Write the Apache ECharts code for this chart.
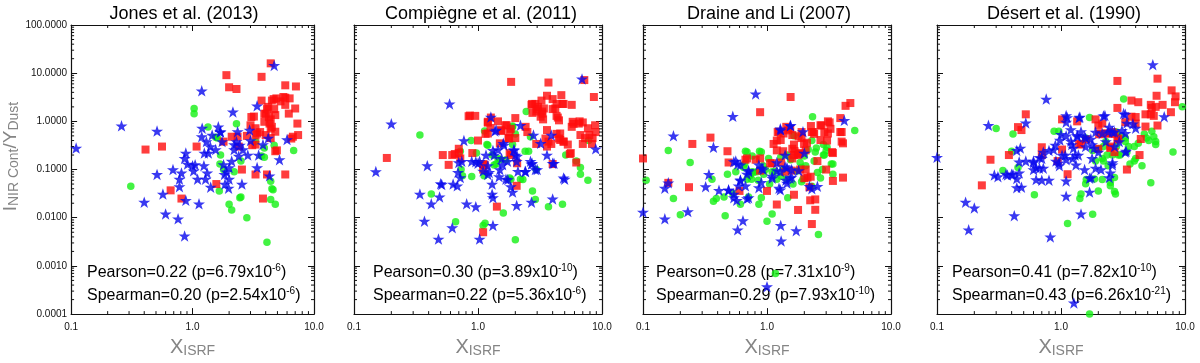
<!DOCTYPE html>
<html>
<head>
<meta charset="utf-8">
<script src="https://cdn.jsdelivr.net/npm/echarts@6/dist/echarts.min.js"></script>
<style>
html, body { margin: 0; padding: 0; background: #fff; }
#chart { width: 1200px; height: 363px; }
</style>
</head>
<body>
<div id="chart"></div>
<script>
// ---- text ----
const titles = ['Jones et al. (2013)', 'Compiègne et al. (2011)', 'Draine and Li (2007)', 'Désert et al. (1990)']
// [r, p mantissa, p exponent]
const pearson = [['0.22', '6.79', '-6'], ['0.30', '3.89', '-10'], ['0.28', '7.31', '-9'], ['0.41', '7.82', '-10']]
const spearman = [['0.20', '2.54', '-6'], ['0.22', '5.36', '-6'], ['0.29', '7.93', '-10'], ['0.43', '6.26', '-21']]

// ---- axis ticks ----
const xMajor = [0.1, 1, 10]
const yMajor = [0.0001, 0.001, 0.01, 0.1, 1, 10, 100]
const minorMantissa = [2, 3, 4, 5, 6, 7, 8, 9]

// ---- data: [X_ISRF, I_NIR/Y_Dust] ----
// Jones et al. (2013)
const jonesCircle = [[0.31,0.045],[1.03,1.86],[1.03,1.44],[1.34,0.76],[1.55,0.47],[1.6,0.45],[1.68,0.13],[1.7,0.2],[1.66,0.036],[2.0,0.019],[2.1,0.0145],[2.3,0.89],[2.45,0.026],[2.8,0.010],[4.1,0.0031],[4.4,0.024],[4.5,0.04],[4.8,0.019],[4.4,0.057],[4.7,0.32],[6.8,0.25],[3.9,0.18],[2.5,0.15],[3.3,0.38],[2.2,0.09],[1.8,0.1],[4.6,0.038],[3.9,0.28],[3.7,0.19],[2.5,0.027]]
const jonesSquare = [[0.41,0.26],[0.56,0.30],[0.66,0.037],[0.81,0.025],[1.08,0.30],[1.57,0.05],[1.9,9.1],[2.0,5.1],[2.3,4.7],[1.8,0.38],[2.1,0.48],[2.35,0.48],[2.4,0.30],[2.55,0.10],[3.0,0.83],[3.05,1.23],[3.3,0.72],[3.3,0.33],[3.3,0.079],[3.4,0.56],[3.7,8.4],[3.7,2.7],[3.9,1.44],[3.9,0.98],[4.0,0.52],[4.1,0.079],[3.8,0.025],[4.4,16],[4.5,2.7],[4.7,1.8],[4.8,1.35],[4.4,1.1],[4.5,0.77],[4.8,0.61],[4.4,0.45],[4.8,0.24],[4.9,3.0],[5.3,2.6],[5.8,5.6],[5.8,3.1],[5.8,0.079],[5.8,2.2],[6.3,3.0],[6.2,1.45],[7.1,5.3],[7.0,1.85],[7.3,0.9],[6.7,0.48],[7.4,0.52],[4.2,2.0],[4.3,0.9],[3.6,0.6],[2.8,0.5],[4.1,1.8],[4.0,1.43],[4.25,1.23],[4.4,0.71],[4.65,2.9],[5.6,3.2],[3.3,0.51],[3.1,0.32],[4.95,0.25],[3.2,1.26],[6.5,0.44]]
const jonesStar = [[0.11,0.28],[0.26,0.81],[0.51,0.63],[0.51,0.079],[0.40,0.021],[0.60,0.012],[0.57,0.031],[0.76,0.0095],[0.86,0.0042],[0.88,0.023],[1.13,0.0195],[0.69,0.10],[0.78,0.063],[0.78,0.044],[0.81,0.085],[0.86,0.17],[0.88,0.22],[0.91,0.13],[1.0,0.12],[1.02,0.094],[1.05,0.126],[1.1,0.063],[1.24,0.12],[1.28,0.063],[1.32,0.085],[1.41,0.043],[1.19,4.3],[1.2,0.72],[1.19,0.48],[1.3,0.38],[1.35,0.22],[1.4,0.30],[1.45,0.52],[1.55,0.26],[1.63,0.77],[1.69,0.61],[1.75,0.38],[1.8,0.126],[1.83,0.079],[1.85,0.05],[1.98,0.041],[2.0,0.063],[2.1,0.15],[2.15,1.57],[2.2,0.26],[2.3,0.38],[2.35,0.61],[2.4,0.19],[2.55,0.05],[2.6,0.26],[2.85,0.2],[2.95,0.66],[3.4,2.1],[3.4,0.11],[3.5,0.2],[3.8,0.33],[4.2,0.45],[4.3,0.074],[4.7,14.5],[6.0,0.42],[5.2,0.16],[1.25,0.22],[1.9,0.09],[2.0,0.11],[2.2,0.33],[1.7,0.6],[3.0,0.4],[2.45,0.32]]

// Compiègne et al. (2011)
const compCircle = [[0.34,0.52],[0.42,0.031],[0.66,0.0083],[0.73,0.10],[0.75,0.074],[0.88,0.40],[0.97,0.22],[1.1,0.0069],[1.14,0.0077],[1.12,0.074],[1.18,0.33],[1.3,0.2],[1.4,0.13],[1.45,0.17],[1.6,0.0125],[1.68,0.16],[1.84,0.063],[1.9,0.8],[1.9,0.33],[2.0,0.55],[2.0,0.0035],[2.2,0.063],[2.4,0.24],[2.45,1.6],[2.65,0.48],[2.75,0.036],[2.9,0.024],[2.95,0.10],[3.7,0.017],[4.8,0.019],[5.1,0.2],[6.2,0.15],[6.7,0.11],[6.7,0.08],[7.7,0.06],[7.8,0.4],[1.13,0.63],[1.9,0.76],[2.56,0.24],[1.2,0.32],[1.5,0.16],[1.35,0.125],[0.89,0.072],[2.3,0.062],[1.8,0.067],[0.72,0.24]]
const compSquare = [[0.184,0.174],[0.52,0.2],[0.62,0.2],[0.7,0.22],[0.7,0.27],[0.9,0.22],[0.84,1.28],[0.95,1.3],[1.0,0.4],[1.1,0.13],[1.15,0.55],[1.1,0.1],[1.2,0.56],[1.2,0.94],[1.26,0.73],[1.27,1.2],[1.42,0.017],[1.45,1.0],[1.5,0.35],[1.55,0.63],[1.7,0.83],[1.76,0.45],[1.8,0.6],[1.85,0.2],[1.85,6.6],[2.0,1.17],[2.0,0.45],[2.05,0.046],[1.1,0.005],[2.7,2.2],[2.75,1.5],[2.9,2.3],[2.95,1.6],[2.95,0.34],[3.05,2.0],[3.2,1.25],[3.25,2.7],[3.3,1.6],[3.35,1.1],[3.4,1.85],[3.6,0.66],[3.7,6.4],[3.7,0.38],[3.9,0.34],[4.0,0.13],[4.0,2.9],[4.2,1.85],[4.3,2.3],[4.4,1.2],[4.7,3.5],[4.8,2.3],[4.6,0.56],[4.6,0.41],[4.9,0.38],[5.3,0.33],[5.5,0.21],[5.7,2.2],[5.7,0.77],[5.9,0.89],[6.2,0.14],[6.5,0.9],[6.7,0.52],[7.0,0.34],[7.2,7.2],[7.3,0.45],[7.7,0.72],[7.9,0.52],[8.3,0.34],[8.6,3.2],[8.8,0.83],[8.4,0.45],[8.9,0.6],[0.86,1.32],[1.2,0.98],[1.67,0.83],[1.84,0.7],[1.53,0.66],[1.78,0.44],[2.42,0.77],[2.5,0.6],[2.73,2.3],[3.0,1.8],[3.3,1.45],[3.6,3.4],[4.0,1.8],[4.9,2.3],[4.3,1.3],[4.5,1.05],[5.8,0.98],[6.6,1.0],[7.0,0.95],[3.5,0.44],[4.3,0.55],[4.5,0.44],[4.9,0.38],[3.6,0.3],[5.6,0.22],[2.07,0.135],[0.58,0.125],[0.72,0.17],[0.65,0.21],[1.8,0.22],[1.13,0.125]]
const compStar = [[0.15,0.091],[0.20,0.89],[0.59,2.3],[0.39,0.12],[0.34,0.031],[0.42,0.0195],[0.37,0.0085],[0.49,0.027],[0.50,0.051],[0.48,0.0036],[0.63,0.05],[0.68,0.046],[0.69,0.087],[0.72,0.068],[0.74,0.148],[0.70,0.14],[0.77,0.40],[0.81,0.0195],[0.96,0.017],[0.62,0.0062],[1.03,0.0036],[1.32,0.0069],[0.89,0.148],[1.03,0.148],[1.1,0.093],[1.16,0.2],[1.2,0.12],[1.23,0.087],[1.27,1.23],[1.3,0.05],[1.3,0.031],[1.32,0.026],[1.35,0.2],[1.4,0.66],[1.45,0.26],[1.5,0.10],[1.55,0.17],[1.58,0.126],[1.6,0.35],[1.68,0.063],[1.73,0.148],[1.84,0.044],[1.9,0.034],[1.95,0.26],[2.0,0.2],[2.05,0.148],[2.1,0.092],[2.05,0.018],[2.2,0.83],[2.4,0.092],[2.65,0.148],[2.7,0.13],[2.7,0.021],[2.8,0.52],[2.9,0.10],[3.0,0.10],[3.2,0.35],[4.0,0.135],[4.0,0.0245],[3.9,0.52],[5.0,0.063],[6.9,7.6],[8.9,0.27],[1.37,0.63],[1.62,0.32],[1.32,0.25],[1.95,0.25],[2.07,0.19],[1.0,0.135],[0.96,0.146],[1.2,0.079],[1.48,0.071],[1.74,0.062],[2.42,0.091],[2.73,0.135],[3.6,0.2],[4.1,0.135],[4.9,0.067],[0.51,0.049]]

// Draine and Li (2007)
const draineCircle = [[0.106,0.06],[0.16,0.25],[0.176,0.025],[0.2,0.0115],[0.24,0.14],[0.36,0.063],[0.37,0.022],[0.39,0.025],[0.45,0.027],[0.46,0.011],[0.48,0.08],[0.53,0.032],[0.56,0.09],[0.61,0.019],[0.65,0.11],[0.67,0.24],[0.69,0.063],[0.71,0.027],[0.73,0.075],[0.75,0.063],[0.78,0.087],[0.83,0.09],[0.85,0.06],[0.87,0.24],[0.9,0.026],[0.94,0.08],[0.97,0.1],[1.0,0.0085],[1.03,0.17],[1.05,0.05],[1.1,0.012],[1.17,0.0007],[1.16,0.092],[1.2,0.063],[1.29,0.18],[1.3,0.073],[1.35,0.1],[1.45,0.063],[1.47,0.026],[1.55,0.16],[1.62,0.05],[1.75,0.093],[1.85,0.14],[1.9,0.11],[1.95,0.063],[2.0,0.19],[2.05,0.12],[2.15,0.26],[2.3,0.045],[2.33,1.25],[2.4,0.15],[2.45,0.23],[2.55,0.087],[2.6,0.0045],[2.7,0.067],[2.8,0.1],[2.85,0.2],[3.05,0.29],[3.3,0.13],[3.4,0.08],[5.1,0.65],[0.69,0.23],[0.9,0.23],[0.76,0.19],[0.66,0.13],[0.76,0.09],[0.93,0.12],[1.1,0.09],[1.65,0.5],[2.3,0.4],[2.5,0.28],[2.9,0.2],[3.0,0.25],[3.4,0.13],[2.85,0.33],[1.45,0.2],[1.9,0.056],[0.86,0.019]]
const draineSquare = [[0.1,0.17],[0.16,0.053],[0.235,0.043],[0.25,0.34],[0.35,0.46],[0.48,0.24],[0.49,0.14],[0.6,0.036],[0.67,0.16],[0.88,1.55],[0.88,0.095],[0.88,0.17],[1.0,0.036],[1.1,0.135],[1.13,0.34],[1.2,0.0188],[1.25,0.61],[1.29,0.41],[1.3,0.14],[1.35,0.24],[1.43,0.77],[1.48,0.65],[1.55,3.2],[1.58,0.095],[1.6,0.17],[1.65,0.33],[1.65,0.03],[1.67,0.24],[1.77,0.2],[1.78,0.0145],[1.84,0.22],[1.9,0.45],[1.99,0.34],[2.1,0.36],[2.12,0.068],[2.2,0.043],[2.23,0.023],[2.26,0.8],[2.3,0.6],[2.3,0.0074],[2.4,0.55],[2.45,0.024],[2.45,0.0146],[2.7,0.83],[2.9,0.6],[3.0,0.1],[3.05,0.4],[3.1,1.0],[3.25,0.7],[3.35,0.23],[3.4,0.058],[3.9,1.17],[4.0,0.6],[4.0,0.38],[4.1,0.068],[4.1,0.35],[4.3,2.1],[4.7,2.4],[2.55,0.15],[0.69,0.17],[0.81,0.16],[1.22,0.6],[1.36,0.56],[1.54,0.7],[1.6,0.52],[1.8,0.49],[1.9,0.6],[2.37,0.6],[2.75,0.82],[3.1,0.56],[2.7,0.41],[3.2,0.95],[3.9,0.6],[3.4,0.22],[1.2,0.4],[1.2,0.25],[1.6,0.27],[1.65,0.2],[1.8,0.21],[2.05,0.25],[1.85,0.1],[2.05,0.1],[2.0,0.066],[2.25,0.071],[1.06,0.135],[1.4,0.09]]
const draineStar = [[0.10,0.013],[0.15,0.041],[0.16,0.053],[0.15,0.0095],[0.176,0.50],[0.23,0.0134],[0.32,0.044],[0.34,0.079],[0.37,0.29],[0.41,0.037],[0.49,0.037],[0.53,1.27],[0.54,0.031],[0.56,0.15],[0.57,0.023],[0.58,0.0056],[0.59,0.046],[0.61,0.125],[0.61,0.059],[0.64,0.0087],[0.67,0.046],[0.69,0.025],[0.71,0.096],[0.69,0.08],[0.81,3.7],[0.86,0.125],[0.9,0.054],[0.93,0.1],[1.0,0.00037],[1.1,0.073],[1.2,0.14],[1.2,0.095],[1.25,0.041],[1.29,0.66],[1.29,0.0069],[1.3,0.0033],[1.4,0.2],[1.4,0.115],[1.42,0.06],[1.45,0.11],[1.55,0.82],[1.58,0.07],[1.72,0.0054],[1.8,0.095],[1.95,0.61],[2.0,0.22],[2.2,0.045],[2.55,0.045],[4.2,1.05],[1.28,0.7],[1.54,0.82],[0.54,0.146],[0.58,0.13],[0.71,0.091],[0.91,0.107],[1.1,0.066],[1.28,0.091],[1.54,0.066],[1.58,0.1],[1.45,0.052],[1.28,0.038],[2.3,0.04],[0.61,0.061],[0.49,0.038],[0.54,0.026],[0.71,0.026],[0.86,0.042]]

// Désert et al. (1990)
const desertCircle = [[0.3,0.71],[0.34,0.096],[0.4,0.24],[0.41,0.55],[0.45,0.11],[0.61,0.03],[0.88,0.62],[1.13,0.0076],[1.42,0.025],[1.45,0.031],[1.58,0.051],[1.7,1.2],[1.58,0.45],[1.8,0.0118],[1.7,0.0001],[1.86,0.064],[1.9,0.15],[2.0,0.036],[2.15,0.17],[2.2,0.3],[2.3,0.38],[2.35,0.2],[2.5,0.054],[2.6,0.2],[2.7,0.068],[2.75,0.031],[2.8,0.3],[2.9,0.2],[3.0,0.2],[3.2,2.9],[3.3,0.45],[3.5,0.3],[3.6,0.13],[3.9,0.15],[4.2,0.35],[4.5,0.12],[4.7,0.55],[4.9,0.45],[5.1,0.4],[5.4,0.62],[5.6,0.48],[5.8,0.38],[5.3,0.053],[5.8,0.33],[8.0,0.23],[9.5,2.0],[0.96,0.62],[2.15,0.062],[2.5,0.046],[2.7,0.035],[3.4,0.23],[3.3,0.38],[3.9,0.3],[4.0,0.17],[2.8,0.6],[1.8,0.25],[2.0,0.27],[2.2,0.15],[2.4,0.12],[3.0,0.5],[1.6,0.062]]
const desertSquare = [[0.23,0.047],[0.27,0.16],[0.38,0.2],[0.45,0.76],[0.48,0.66],[0.52,1.4],[0.7,0.29],[0.7,0.2],[0.94,0.15],[1.02,0.26],[1.02,1.1],[1.13,0.08],[1.35,1.0],[1.4,0.34],[1.45,0.33],[1.9,1.1],[2.0,0.82],[2.0,0.27],[2.1,0.56],[2.35,0.56],[2.5,0.3],[2.6,0.6],[2.85,6.9],[2.85,1.9],[2.85,0.42],[3.3,0.96],[3.4,0.1],[3.7,2.7],[3.7,1.25],[4.2,2.5],[4.4,0.43],[4.8,0.78],[4.8,1.4],[4.3,0.2],[5.3,1.4],[5.3,2.2],[5.4,1.9],[5.6,1.3],[5.8,2.0],[5.9,3.4],[6.0,7.7],[6.0,0.82],[6.6,2.2],[7.7,1.55],[7.8,4.4],[8.3,2.5],[8.4,3.3],[2.15,0.9],[2.03,0.54],[2.45,0.56],[2.7,0.55],[2.9,0.44],[1.6,0.42],[2.5,0.28],[2.7,0.23],[4.0,1.23],[4.0,0.9]]
const desertStar = [[0.1,0.18],[0.17,0.021],[0.2,0.016],[0.18,0.0056],[0.26,0.83],[0.31,0.071],[0.36,0.08],[0.40,0.08],[0.44,0.065],[0.46,0.085],[0.42,0.011],[0.47,0.28],[0.48,0.043],[0.52,0.93],[0.52,0.15],[0.6,0.15],[0.6,0.10],[0.63,0.11],[0.7,0.06],[0.76,2.9],[0.8,0.06],[0.82,0.004],[0.87,0.26],[0.91,0.15],[0.97,0.12],[1.08,0.2],[1.1,0.058],[1.1,0.028],[1.12,1.2],[1.22,0.33],[1.27,0.00017],[1.3,0.2],[1.35,0.51],[1.4,1.2],[1.45,0.61],[1.45,0.012],[1.58,0.45],[1.7,0.034],[1.75,0.068],[1.85,0.28],[2.1,0.1],[2.2,1.3],[2.4,0.61],[2.45,0.068],[2.6,0.14],[2.7,0.6],[3.3,1.4],[3.35,0.24],[3.4,0.92],[5.5,15],[6.8,1.25],[1.1,1.32],[1.42,1.23],[2.26,1.32],[3.2,1.45],[1.1,0.5],[0.98,0.41],[1.2,0.39],[1.36,0.48],[1.55,0.48],[1.74,0.43],[1.9,0.6],[2.15,0.56],[2.45,0.76],[2.6,0.6],[3.1,0.65],[3.3,0.56],[3.8,0.89],[4.0,0.72],[3.3,0.23],[2.6,0.125],[2.5,0.085],[1.78,0.17],[1.7,0.066],[1.55,0.1],[1.32,0.125],[1.24,0.17],[1.1,0.16],[1.02,0.2],[0.96,0.137],[0.72,0.107],[0.7,0.17],[0.63,0.062],[0.67,0.107],[0.6,0.14],[0.67,0.18],[0.72,0.23],[0.8,0.25],[0.9,0.32],[0.44,0.25],[0.46,0.145],[0.41,0.079],[0.37,0.077],[0.29,0.077],[0.44,0.042],[1.26,0.28],[1.38,0.2],[2.0,0.23],[2.3,0.38],[1.78,0.33],[1.58,0.3],[2.7,0.3],[2.95,0.38],[1.9,0.107],[1.1,0.96],[1.2,0.67],[1.0,0.54]]

const panels = [
  {circle: jonesCircle, square: jonesSquare, star: jonesStar},
  {circle: compCircle, square: compSquare, star: compStar},
  {circle: draineCircle, square: draineSquare, star: draineStar},
  {circle: desertCircle, square: desertSquare, star: desertStar}
]

// ---- layout ----
const FONT = 'Liberation Sans'
const panelLeft = [66, 354, 643, 937]
const plotTop = 25, plotW = 248, plotH = 293
const titleX = [184, 481, 769, 1064]
const statX = [87, 373, 656, 952]
const STAR = 'path://M50,0 L62,35 L98,35 L69,57 L80,92 L50,71 L20,92 L31,57 L2,35 L38,35 Z'

const chart = echarts.init(document.getElementById('chart'))

const minorX = []
xMajor.slice(0, -1).forEach(d => minorMantissa.forEach(m => minorX.push(m * d)))
const minorY = []
yMajor.slice(0, -1).forEach(d => minorMantissa.forEach(m => minorY.push(m * d)))

const frameLine = {show: true, onZero: false, lineStyle: {color: '#111', width: 1.2}}
const majorTick = {show: true, inside: true, length: 6, lineStyle: {color: '#111', width: 1}}
const gray = '#858585'

const grid = [], xAxis = [], yAxis = [], series = [], graphic = []

panels.forEach((p, i) => {
  grid.push({left: panelLeft[i], top: plotTop, width: plotW, height: plotH})

  xAxis.push({
    type: 'log', logBase: 10, gridIndex: i, position: 'bottom', min: 0.1, max: 10, splitNumber: 2,
    axisLine: frameLine, axisTick: majorTick, splitLine: {show: false},
    axisLabel: {
      formatter: v => Number(v).toFixed(1), fontSize: 10, color: '#111', fontFamily: FONT, margin: 8,
      showMinLabel: true, showMaxLabel: true
    },
    name: '{a|X}{b|ISRF}', nameLocation: 'middle', nameGap: 17,
    nameTextStyle: {
      rich: {
        a: {fontSize: 20, color: gray, fontFamily: FONT, lineHeight: 22},
        b: {fontSize: 14, color: gray, fontFamily: FONT, verticalAlign: 'bottom', lineHeight: 14}
      }
    }
  })
  xAxis.push({
    type: 'log', logBase: 10, gridIndex: i, position: 'top', min: 0.1, max: 10, splitNumber: 2,
    axisLine: frameLine, axisTick: majorTick, axisLabel: {show: false}, splitLine: {show: false}
  })

  const yMain = {
    type: 'log', logBase: 10, gridIndex: i, position: 'left', min: 0.0001, max: 100, splitNumber: 6,
    axisLine: frameLine, axisTick: majorTick, splitLine: {show: false},
    axisLabel: {
      show: i === 0, formatter: v => Number(v).toFixed(4), fontSize: 10, color: '#111', fontFamily: FONT,
      margin: 4, showMinLabel: true, showMaxLabel: true
    }
  }
  if (i === 0) {
    yMain.name = '{a|I}{b|NIR Cont}{a|/Y}{b|Dust}'
    yMain.nameLocation = 'middle'
    yMain.nameRotate = 90
    yMain.nameGap = 48
    yMain.nameTextStyle = {
      padding: [0, 0, 0, 26],
      rich: {
        a: {fontSize: 19, color: gray, fontFamily: FONT, lineHeight: 22},
        b: {fontSize: 14, color: gray, fontFamily: FONT, verticalAlign: 'bottom', lineHeight: 14}
      }
    }
  }
  yAxis.push(yMain)
  yAxis.push({
    type: 'log', logBase: 10, gridIndex: i, position: 'right', min: 0.0001, max: 100, splitNumber: 6,
    axisLine: frameLine, axisTick: majorTick, axisLabel: {show: false}, splitLine: {show: false}
  })

  const ax = {xAxisIndex: 2 * i, yAxisIndex: 2 * i}
  series.push({type: 'scatter', ...ax, data: p.circle, symbol: 'circle', symbolSize: 7.5,
    itemStyle: {color: '#14f014'}, z: 2})
  series.push({type: 'scatter', ...ax, data: p.square, symbol: 'rect', symbolSize: 8,
    itemStyle: {color: '#ff0c0c'}, z: 3})
  series.push({type: 'scatter', ...ax, data: p.star, symbol: STAR, symbolSize: 12, symbolKeepAspect: true,
    itemStyle: {color: '#0808ee'}, z: 4})

  // minor ticks on all four sides, placed through the axis scales
  const tickData = minorX.map(v => [v, 1, 0]).concat(minorY.map(v => [1, v, 1]))
  series.push({
    type: 'custom', ...ax, data: tickData, silent: true, clip: false, z: 6,
    renderItem: (params, api) => {
      const kind = api.value(2)
      const st = {stroke: '#111', lineWidth: 1}
      if (kind === 0) {
        const v = api.value(0)
        const b = api.coord([v, 0.0001]), t = api.coord([v, 100])
        return {type: 'group', children: [
          {type: 'line', shape: {x1: b[0], y1: b[1], x2: b[0], y2: b[1] - 3}, style: st},
          {type: 'line', shape: {x1: t[0], y1: t[1], x2: t[0], y2: t[1] + 3}, style: st}
        ]}
      }
      const v = api.value(1)
      const l = api.coord([0.1, v]), r = api.coord([10, v])
      return {type: 'group', children: [
        {type: 'line', shape: {x1: l[0], y1: l[1], x2: l[0] + 3, y2: l[1]}, style: st},
        {type: 'line', shape: {x1: r[0], y1: r[1], x2: r[0] - 3, y2: r[1]}, style: st}
      ]}
    }
  })

  graphic.push({
    type: 'text', x: titleX[i], y: 14, silent: true,
    style: {text: titles[i], fontSize: 18, fontFamily: FONT, fill: '#000', align: 'center', verticalAlign: 'middle'}
  })
  const rich = {
    t: {fontSize: 16, fontFamily: FONT, fill: '#000', lineHeight: 20},
    u: {fontSize: 10, fontFamily: FONT, fill: '#000', verticalAlign: 'top', lineHeight: 10}
  }
  const line = (label, s) => `{t|${label}=${s[0]} (p=${s[1]}x10}{u|${s[2]}}{t|)}`
  graphic.push({
    type: 'text', x: statX[i], y: 273, silent: true,
    style: {text: line('Pearson', pearson[i]), rich, align: 'left', verticalAlign: 'middle'}
  })
  graphic.push({
    type: 'text', x: statX[i], y: 296, silent: true,
    style: {text: line('Spearman', spearman[i]), rich, align: 'left', verticalAlign: 'middle'}
  })
})

chart.setOption({
  animation: false,
  backgroundColor: '#fff',
  grid, xAxis, yAxis, series, graphic
})
</script>
</body>
</html>
